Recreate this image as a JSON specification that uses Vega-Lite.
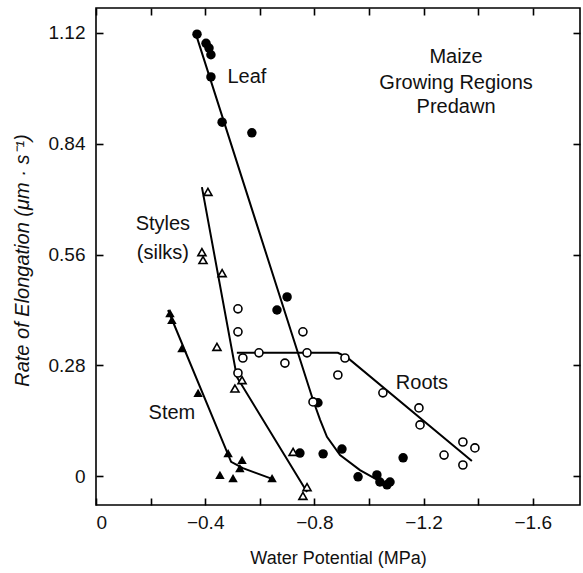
{
  "$schema": "https://vega.github.io/schema/vega-lite/v6.json",
  "width": 484,
  "height": 497,
  "autosize": {"type": "none"},
  "padding": {"left": 96, "top": 8, "right": 3, "bottom": 68},
  "background": "white",
  "config": {
    "view": {"stroke": "black", "strokeWidth": 1.6},
    "font": "Liberation Sans",
    "axis": {"domain": false, "grid": false, "tickColor": "black", "tickWidth": 1.6, "labelColor": "#111", "titleColor": "#111", "labelFontSize": 19, "titleFontSize": 18, "titleFontWeight": "normal"}
  },
  "datasets": {
    "pts": [
      {"s": "Leaf", "x": -0.370, "y": 1.116},
      {"s": "Leaf", "x": -0.403, "y": 1.093},
      {"s": "Leaf", "x": -0.414, "y": 1.081},
      {"s": "Leaf", "x": -0.421, "y": 1.064},
      {"s": "Leaf", "x": -0.421, "y": 1.008},
      {"s": "Leaf", "x": -0.462, "y": 0.894},
      {"s": "Leaf", "x": -0.571, "y": 0.867},
      {"s": "Leaf", "x": -0.700, "y": 0.453},
      {"s": "Leaf", "x": -0.663, "y": 0.420},
      {"s": "Leaf", "x": -0.813, "y": 0.186},
      {"s": "Leaf", "x": -0.747, "y": 0.059},
      {"s": "Leaf", "x": -0.832, "y": 0.057},
      {"s": "Leaf", "x": -0.901, "y": 0.069},
      {"s": "Leaf", "x": -1.125, "y": 0.047},
      {"s": "Leaf", "x": -0.960, "y": -0.001},
      {"s": "Leaf", "x": -1.029, "y": 0.004},
      {"s": "Leaf", "x": -1.040, "y": -0.014},
      {"s": "Leaf", "x": -1.066, "y": -0.021},
      {"s": "Leaf", "x": -1.077, "y": -0.014},
      {"s": "Styles", "x": -0.410, "y": 0.718},
      {"s": "Styles", "x": -0.388, "y": 0.566},
      {"s": "Styles", "x": -0.392, "y": 0.546},
      {"s": "Styles", "x": -0.462, "y": 0.513},
      {"s": "Styles", "x": -0.443, "y": 0.327},
      {"s": "Styles", "x": -0.509, "y": 0.222},
      {"s": "Styles", "x": -0.535, "y": 0.243},
      {"s": "Styles", "x": -0.722, "y": 0.062},
      {"s": "Styles", "x": -0.773, "y": -0.027},
      {"s": "Styles", "x": -0.758, "y": -0.049},
      {"s": "Stem", "x": -0.271, "y": 0.412},
      {"s": "Stem", "x": -0.278, "y": 0.395},
      {"s": "Stem", "x": -0.315, "y": 0.324},
      {"s": "Stem", "x": -0.374, "y": 0.211},
      {"s": "Stem", "x": -0.484, "y": 0.059},
      {"s": "Stem", "x": -0.535, "y": 0.042},
      {"s": "Stem", "x": -0.527, "y": 0.021},
      {"s": "Stem", "x": -0.454, "y": 0.004},
      {"s": "Stem", "x": -0.502, "y": -0.004},
      {"s": "Stem", "x": -0.645, "y": -0.004},
      {"s": "Roots", "x": -0.520, "y": 0.423},
      {"s": "Roots", "x": -0.520, "y": 0.365},
      {"s": "Roots", "x": -0.538, "y": 0.299},
      {"s": "Roots", "x": -0.597, "y": 0.312},
      {"s": "Roots", "x": -0.692, "y": 0.286},
      {"s": "Roots", "x": -0.758, "y": 0.365},
      {"s": "Roots", "x": -0.773, "y": 0.312},
      {"s": "Roots", "x": -0.912, "y": 0.299},
      {"s": "Roots", "x": -0.886, "y": 0.256},
      {"s": "Roots", "x": -0.520, "y": 0.261},
      {"s": "Roots", "x": -0.795, "y": 0.188},
      {"s": "Roots", "x": -1.051, "y": 0.211},
      {"s": "Roots", "x": -1.183, "y": 0.173},
      {"s": "Roots", "x": -1.187, "y": 0.130},
      {"s": "Roots", "x": -1.344, "y": 0.087},
      {"s": "Roots", "x": -1.388, "y": 0.072},
      {"s": "Roots", "x": -1.275, "y": 0.054},
      {"s": "Roots", "x": -1.344, "y": 0.029}
    ],
    "fits": [
      {"s": "Leaf", "o": 1, "x": -0.366, "y": 1.116},
      {"s": "Leaf", "o": 2, "x": -0.795, "y": 0.193},
      {"s": "Leaf", "o": 3, "x": -0.821, "y": 0.143},
      {"s": "Leaf", "o": 4, "x": -0.846, "y": 0.100},
      {"s": "Leaf", "o": 5, "x": -0.894, "y": 0.054},
      {"s": "Leaf", "o": 6, "x": -0.967, "y": 0.016},
      {"s": "Leaf", "o": 7, "x": -1.077, "y": -0.026},
      {"s": "Styles", "o": 1, "x": -0.388, "y": 0.730},
      {"s": "Styles", "o": 2, "x": -0.516, "y": 0.251},
      {"s": "Styles", "o": 3, "x": -0.773, "y": -0.039},
      {"s": "Stem", "o": 1, "x": -0.264, "y": 0.420},
      {"s": "Stem", "o": 2, "x": -0.495, "y": 0.037},
      {"s": "Stem", "o": 3, "x": -0.538, "y": 0.021},
      {"s": "Stem", "o": 4, "x": -0.645, "y": -0.006},
      {"s": "Roots", "o": 1, "x": -0.516, "y": 0.312},
      {"s": "Roots", "o": 2, "x": -0.886, "y": 0.312},
      {"s": "Roots", "o": 3, "x": -0.919, "y": 0.301},
      {"s": "Roots", "o": 4, "x": -1.377, "y": 0.039}
    ],
    "labels": [
      {"t": "Leaf", "x": -0.553, "y": 1.008},
      {"t": "Styles", "x": -0.245, "y": 0.637},
      {"t": "(silks)", "x": -0.245, "y": 0.564},
      {"t": "Stem", "x": -0.278, "y": 0.160},
      {"t": "Roots", "x": -1.194, "y": 0.236},
      {"t": "Maize", "x": -1.319, "y": 1.058},
      {"t": "Growing Regions", "x": -1.319, "y": 0.993},
      {"t": "Predawn", "x": -1.319, "y": 0.932}
    ]
  },
  "resolve": {"axis": {"x": "independent", "y": "independent"}},
  "layer": [
    {
      "data": {"name": "fits"},
      "mark": {"type": "line", "color": "black", "strokeWidth": 2},
      "encoding": {
        "x": {"field": "x", "type": "quantitative", "scale": {"domain": [0, -1.773], "nice": false, "zero": false},
          "axis": {"orient": "bottom", "values": [0, -0.2, -0.4, -0.6, -0.8, -1.0, -1.2, -1.4, -1.6], "tickSize": -7, "labelPadding": 15, "labelExpr": "round(abs(datum.value)*10) % 4 == 0 ? datum.label : ''", "format": ".1~f", "title": "Water Potential (MPa)", "titlePadding": 17}},
        "y": {"field": "y", "type": "quantitative", "scale": {"domain": [-0.072, 1.182], "nice": false, "zero": false},
          "axis": {"orient": "left", "values": [0, 0.28, 0.56, 0.84, 1.12], "tickSize": -7, "labelPadding": 18, "format": ".2~f", "title": "Rate of Elongation (μm  ·  s⁻¹)", "titleFontStyle": "italic", "titleFontSize": 20, "titlePadding": 16, "titleY": 252}},
        "detail": {"field": "s"},
        "order": {"field": "o"}
      }
    },
    {
      "data": {"name": "pts"},
      "transform": [{"filter": "datum.s == 'Leaf' || datum.s == 'Stem'"}],
      "mark": {"type": "point", "filled": true, "color": "black", "opacity": 1},
      "encoding": {
        "x": {"field": "x", "type": "quantitative", "axis": null},
        "y": {"field": "y", "type": "quantitative", "axis": null},
        "shape": {"field": "s", "type": "nominal", "scale": {"domain": ["Leaf", "Stem"], "range": ["circle", "triangle-up"]}, "legend": null},
        "size": {"value": 90}
      }
    },
    {
      "data": {"name": "pts"},
      "transform": [{"filter": "datum.s == 'Roots' || datum.s == 'Styles'"}],
      "mark": {"type": "point", "filled": true, "fill": "white", "stroke": "black", "strokeWidth": 1.6, "opacity": 1},
      "encoding": {
        "x": {"field": "x", "type": "quantitative", "axis": null},
        "y": {"field": "y", "type": "quantitative", "axis": null},
        "shape": {"field": "s", "type": "nominal", "scale": {"domain": ["Roots", "Styles"], "range": ["circle", "triangle-up"]}, "legend": null},
        "size": {"value": 65}
      }
    },
    {
      "data": {"name": "labels"},
      "mark": {"type": "text", "fontSize": 20, "color": "#111", "align": "center", "baseline": "middle"},
      "encoding": {
        "x": {"field": "x", "type": "quantitative",
          "axis": {"orient": "top", "values": [0, -0.2, -0.4, -0.6, -0.8, -1.0, -1.2, -1.4, -1.6], "tickSize": -7, "labels": false, "title": null}},
        "y": {"field": "y", "type": "quantitative",
          "axis": {"orient": "right", "values": [0, 0.28, 0.56, 0.84, 1.12], "tickSize": -7, "labels": false, "title": null}},
        "text": {"field": "t"}
      }
    }
  ]
}
